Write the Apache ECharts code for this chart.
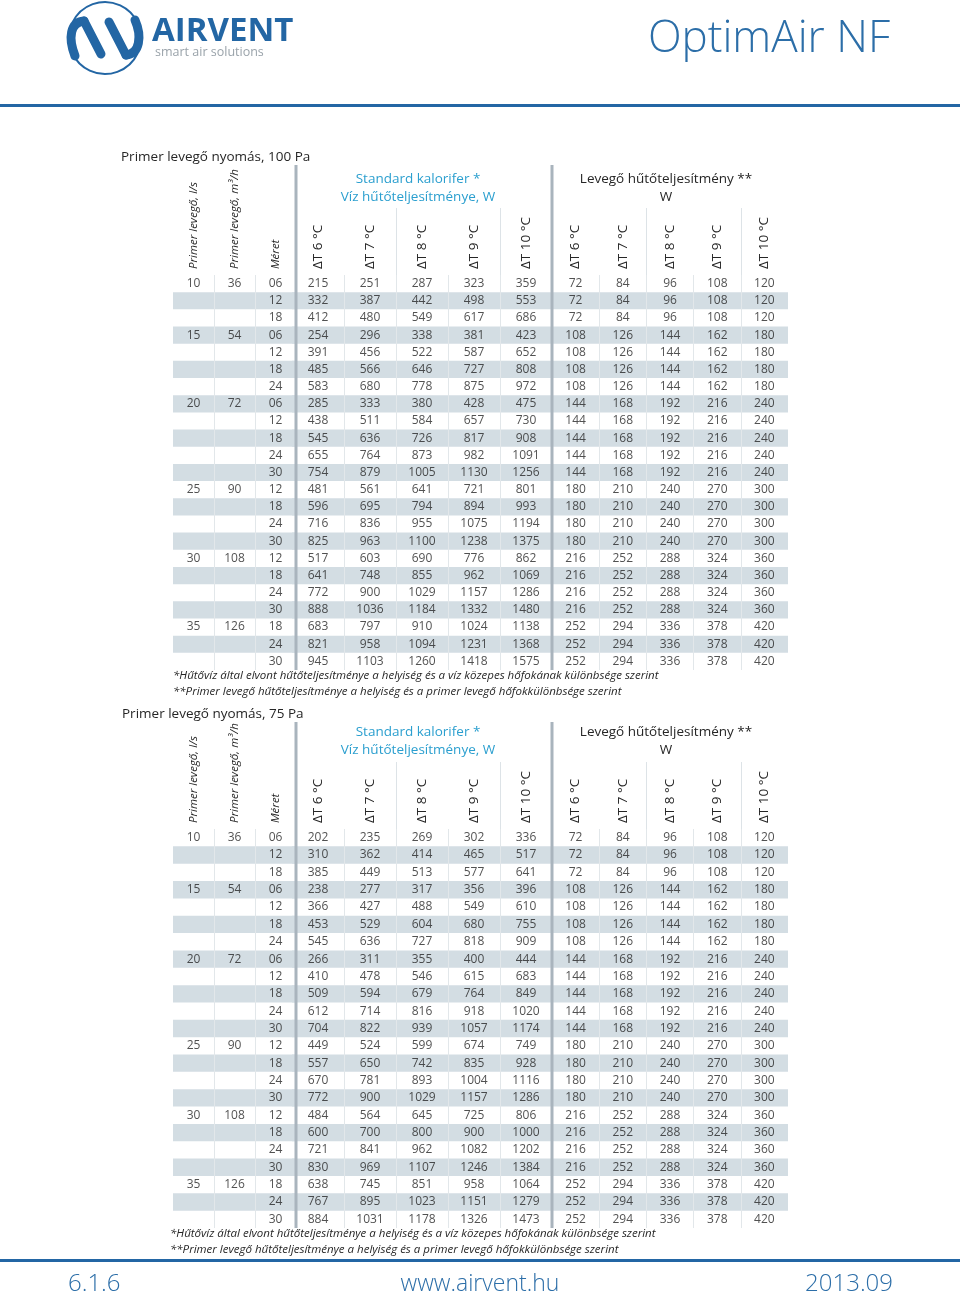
<!DOCTYPE html>
<html>
<head>
<meta charset="utf-8">
<title>OptimAir NF</title>
<script src="https://cdn.jsdelivr.net/npm/echarts@6/dist/echarts.min.js"></script>
<style>
  html, body { margin: 0; padding: 0; background: #fff; }
  #chart { width: 960px; height: 1295px; }
</style>
</head>
<body>
<div id="chart"></div>
<script>
  // oszlopfejek
  var headLeft = ['Primer levegő, l/s', 'Primer levegő, m³/h', 'Méret'];
  var headDelta = ['ΔT 6 °C', 'ΔT 7 °C', 'ΔT 8 °C', 'ΔT 9 °C', 'ΔT 10 °C'];

  // sorok
  var flowLs  = ['10','','','15','','','','20','','','','','25','','','','30','','','','35','',''];
  var flowM3h = ['36','','','54','','','','72','','','','','90','','','','108','','','','126','',''];
  var sizes   = ['06','12','18','06','12','18','24','06','12','18','24','30','12','18','24','30','12','18','24','30','18','24','30'];

  // 100 Pa - víz hűtőteljesítménye, W
  var water100 = [
    [215, 251, 287, 323, 359], [332, 387, 442, 498, 553], [412, 480, 549, 617, 686],
    [254, 296, 338, 381, 423], [391, 456, 522, 587, 652], [485, 566, 646, 727, 808], [583, 680, 778, 875, 972],
    [285, 333, 380, 428, 475], [438, 511, 584, 657, 730], [545, 636, 726, 817, 908], [655, 764, 873, 982, 1091], [754, 879, 1005, 1130, 1256],
    [481, 561, 641, 721, 801], [596, 695, 794, 894, 993], [716, 836, 955, 1075, 1194], [825, 963, 1100, 1238, 1375],
    [517, 603, 690, 776, 862], [641, 748, 855, 962, 1069], [772, 900, 1029, 1157, 1286], [888, 1036, 1184, 1332, 1480],
    [683, 797, 910, 1024, 1138], [821, 958, 1094, 1231, 1368], [945, 1103, 1260, 1418, 1575]
  ];

  // 75 Pa - víz hűtőteljesítménye, W
  var water75 = [
    [202, 235, 269, 302, 336], [310, 362, 414, 465, 517], [385, 449, 513, 577, 641],
    [238, 277, 317, 356, 396], [366, 427, 488, 549, 610], [453, 529, 604, 680, 755], [545, 636, 727, 818, 909],
    [266, 311, 355, 400, 444], [410, 478, 546, 615, 683], [509, 594, 679, 764, 849], [612, 714, 816, 918, 1020], [704, 822, 939, 1057, 1174],
    [449, 524, 599, 674, 749], [557, 650, 742, 835, 928], [670, 781, 893, 1004, 1116], [772, 900, 1029, 1157, 1286],
    [484, 564, 645, 725, 806], [600, 700, 800, 900, 1000], [721, 841, 962, 1082, 1202], [830, 969, 1107, 1246, 1384],
    [638, 745, 851, 958, 1064], [767, 895, 1023, 1151, 1279], [884, 1031, 1178, 1326, 1473]
  ];

  // levegő hűtőteljesítmény, W (mindkét táblában ugyanaz)
  var airPower = [
    [72, 84, 96, 108, 120], [72, 84, 96, 108, 120], [72, 84, 96, 108, 120],
    [108, 126, 144, 162, 180], [108, 126, 144, 162, 180], [108, 126, 144, 162, 180], [108, 126, 144, 162, 180],
    [144, 168, 192, 216, 240], [144, 168, 192, 216, 240], [144, 168, 192, 216, 240], [144, 168, 192, 216, 240], [144, 168, 192, 216, 240],
    [180, 210, 240, 270, 300], [180, 210, 240, 270, 300], [180, 210, 240, 270, 300], [180, 210, 240, 270, 300],
    [216, 252, 288, 324, 360], [216, 252, 288, 324, 360], [216, 252, 288, 324, 360], [216, 252, 288, 324, 360],
    [252, 294, 336, 378, 420], [252, 294, 336, 378, 420], [252, 294, 336, 378, 420]
  ];

  var tableTitles = ['Primer levegő nyomás, 100 Pa', 'Primer levegő nyomás, 75 Pa'];
  var noteWater = '*Hűtővíz által elvont hűtőteljesítménye a helyiség és a víz közepes hőfokának különbsége szerint';
  var noteAir = '**Primer levegő hűtőteljesítménye a helyiség és a primer levegő hőfokkülönbsége szerint';

  var BLUE = '#2366a4';
  var TEXT = '#262626';
  var FONT = '"Open Sans", "Noto Sans", sans-serif';
  var NARROW = '"Liberation Sans Narrow", "Open Sans", sans-serif';

  // elrendezés
  var sections = [
    {left: 173, width: 123},
    {left: 292, width: 260},
    {left: 552, width: 236}
  ];
  var thickX = [296, 552];
  var tables = [
    {water: water100, title: 157, group: 179, thickTop: 165, headTop: 208, top: 275, height: 395, note: 676, noteX: 173},
    {water: water75, title: 714, group: 732, thickTop: 722, headTop: 762, top: 829, height: 399, note: 1234, noteX: 170}
  ];

  var rowCats = sizes.map(function (s, i) { return String(i); });

  var grids = [], xAxes = [], yAxes = [], series = [], graphic = [];

  function cellsFor(t, s) {
    var out = [];
    for (var r = 0; r < sizes.length; r++) {
      var vals;
      if (s === 0) vals = [flowLs[r], flowM3h[r], sizes[r]];
      else if (s === 1) vals = t.water[r];
      else vals = airPower[r];
      for (var c = 0; c < vals.length; c++) {
        if (vals[c] !== '') out.push([c, r, vals[c]]);
      }
    }
    return out;
  }

  tables.forEach(function (t) {
    sections.forEach(function (sec, s) {
      var heads = s === 0 ? headLeft : headDelta;
      // adat rács
      var idx = grids.length;
      grids.push({left: sec.left, width: sec.width, top: t.top, height: t.height});
      xAxes.push({
        gridIndex: idx, type: 'category', position: 'top', data: heads,
        axisLine: {show: false}, axisTick: {show: false},
        axisLabel: {
          interval: 0, rotate: -90, margin: 6, color: TEXT,
          fontFamily: FONT, fontSize: 13.5,
          formatter: function (v) { return s === 0 ? '{i|' + v + '}' : v; },
          rich: {i: {fontStyle: 'italic', fontSize: 11.5, fontFamily: FONT, color: TEXT}}
        },
        splitLine: {show: true, showMinLine: false, showMaxLine: false, lineStyle: {color: '#e2e7ea', width: 1}}
      });
      yAxes.push({
        gridIndex: idx, type: 'category', inverse: true, data: rowCats,
        axisLine: {show: false}, axisTick: {show: false}, axisLabel: {show: false},
        splitLine: {show: false},
        splitArea: {show: true, interval: 0, areaStyle: {color: ['rgba(255,255,255,0)', '#d3dde3']}}
      });
      series.push({
        type: 'scatter', xAxisIndex: idx, yAxisIndex: idx,
        symbolSize: 1, itemStyle: {color: 'rgba(0,0,0,0)'},
        silent: true,
        label: {
          show: true, position: 'inside', color: TEXT, fontFamily: FONT, fontSize: 12,
          formatter: function (p) { return p.value[2]; }
        },
        data: cellsFor(t, s)
      });
      // fejléc rács (csak a függőleges vonalak)
      var hIdx = grids.length;
      grids.push({left: sec.left, width: sec.width, top: t.headTop, height: t.top - t.headTop});
      xAxes.push({
        gridIndex: hIdx, type: 'category', data: heads,
        axisLine: {show: false}, axisTick: {show: false}, axisLabel: {show: false},
        splitLine: {show: true, showMinLine: false, showMaxLine: false, lineStyle: {color: '#dde3e7', width: 1}}
      });
      yAxes.push({gridIndex: hIdx, type: 'value', show: false});
    });

    // vastag elválasztó vonalak
    thickX.forEach(function (x) {
      graphic.push({type: 'line', z: 100, shape: {x1: x, y1: t.thickTop, x2: x, y2: t.top + t.height},
        style: {stroke: '#a9b4bd', lineWidth: 3}});
    });
  });

  function txt(text, x, y, opts) {
    var st = {text: text, x: x, y: y, fill: TEXT, fontFamily: FONT, fontSize: 13,
      align: 'left', verticalAlign: 'middle'};
    for (var k in opts) st[k] = opts[k];
    graphic.push({type: 'text', z: 100, style: st});
  }

  tables.forEach(function (t, i) {
    txt(tableTitles[i], i === 0 ? 121 : 122, t.title, {fontSize: 13.5});
    txt('Standard kalorifer *', 418, t.group, {align: 'center', fill: '#2b9fcf', fontSize: 13.5});
    txt('Víz hűtőteljesítménye, W', 418, t.group + 18, {align: 'center', fill: '#2b9fcf', fontSize: 13.5});
    txt('Levegő hűtőteljesítmény **', 666, t.group, {align: 'center', fontSize: 13.5});
    txt('W', 666, t.group + 18, {align: 'center', fontSize: 13.5});
    txt(noteWater, t.noteX, t.note, {fontFamily: NARROW, fontStyle: 'italic', fontSize: 11.5});
    txt(noteAir, t.noteX, t.note + 16, {fontFamily: NARROW, fontStyle: 'italic', fontSize: 11.5});
  });

  // fejléc / lábléc
  graphic.push({type: 'rect', z: 100, shape: {x: 0, y: 104, width: 960, height: 3}, style: {fill: BLUE}});
  graphic.push({type: 'rect', z: 100, shape: {x: 0, y: 1259, width: 960, height: 3}, style: {fill: BLUE}});
  txt('OptimAir NF', 890, 39, {align: 'right', fill: '#2c6ea8', fontSize: 44, fontWeight: 300});
  txt('6.1.6', 68, 1284, {fill: '#2c6ea8', fontSize: 24, fontWeight: 300});
  txt('www.airvent.hu', 480, 1284, {align: 'center', fill: '#2c6ea8', fontSize: 23, fontWeight: 300});
  txt('2013.09', 893, 1284, {align: 'right', fill: '#2c6ea8', fontSize: 24, fontWeight: 300});

  // logó
  var ring = {stroke: BLUE, lineWidth: 2, fill: null};
  var band = {stroke: BLUE, lineWidth: 9, fill: null, lineCap: 'round'};
  graphic.push({type: 'arc', z: 100, shape: {cx: 105, cy: 38, r: 36, startAngle: 205 * Math.PI / 180, endAngle: 335 * Math.PI / 180}, style: ring});
  graphic.push({type: 'arc', z: 100, shape: {cx: 105, cy: 38, r: 36, startAngle: 25 * Math.PI / 180, endAngle: 155 * Math.PI / 180}, style: ring});
  graphic.push({type: 'bezierCurve', z: 100, shape: {x1: 75, y1: 56, cpx1: 68, cpy1: 38, cpx2: 70, cpy2: 22, x2: 84, y2: 21}, style: band});
  graphic.push({type: 'line', z: 100, shape: {x1: 84, y1: 21, x2: 101, y2: 54}, style: band});
  graphic.push({type: 'line', z: 100, shape: {x1: 109, y1: 22, x2: 126, y2: 55}, style: band});
  graphic.push({type: 'bezierCurve', z: 100, shape: {x1: 126, y1: 55, cpx1: 140, cpy1: 54, cpx2: 142, cpy2: 36, x2: 135, y2: 20}, style: band});
  txt('AIRVENT', 152, 32, {fill: BLUE, fontSize: 33, fontWeight: 'bold', fontFamily: '"Open Sans", sans-serif'});
  txt('smart air solutions', 155, 52, {fill: '#9aa3aa', fontSize: 12.5});

  var chart = echarts.init(document.getElementById('chart'));
  chart.setOption({
    backgroundColor: '#fff',
    animation: false,
    grid: grids,
    xAxis: xAxes,
    yAxis: yAxes,
    series: series,
    graphic: graphic
  });
</script>
</body>
</html>
